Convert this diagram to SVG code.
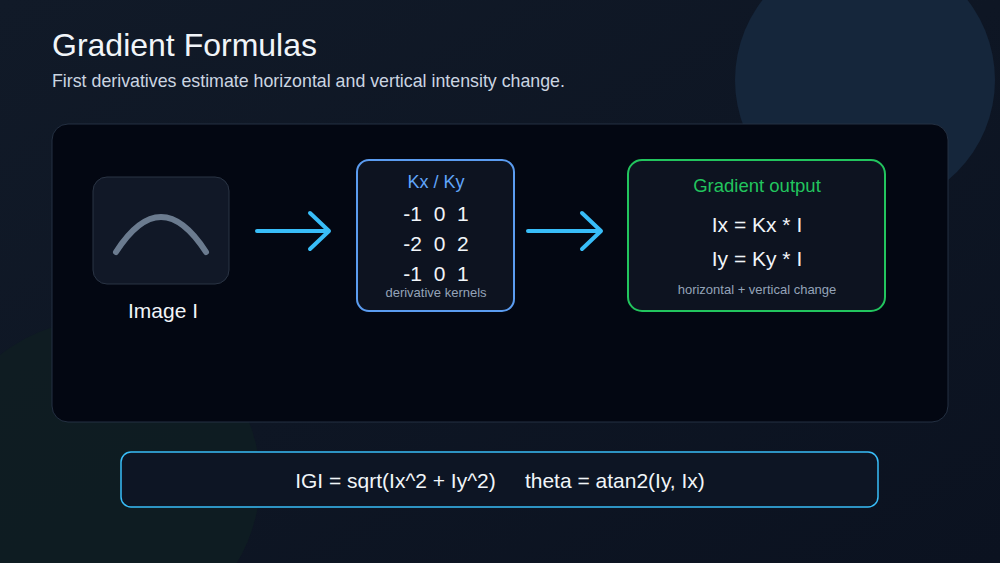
<svg xmlns="http://www.w3.org/2000/svg" width="1000" height="563" viewBox="0 0 1000 563">
<defs>
<linearGradient id="bg" x1="0" y1="0" x2="1" y2="1"><stop offset="0" stop-color="#111a28"/><stop offset="1" stop-color="#0b1220"/></linearGradient>
<style>
text{font-family:"Liberation Sans",Arial,sans-serif}
.w{fill:#f1f5f9}.m{fill:#f1f5f9;font-size:21px;text-anchor:middle}
.s{fill:#94a3b8;font-size:13px;text-anchor:middle}
.arr{stroke:#38bdf8;stroke-width:4;fill:none;stroke-linecap:round;stroke-linejoin:round}
</style>
</defs>
<rect width="1000" height="563" fill="url(#bg)"/>
<circle cx="865" cy="80" r="130" fill="#15263b"/>
<circle cx="100" cy="480" r="160" fill="#0f1e22" opacity="0.8"/>
<text x="52" y="56" class="w" font-size="32">Gradient Formulas</text>
<text x="52" y="87" fill="#cbd5e1" font-size="17.8">First derivatives estimate horizontal and vertical intensity change.</text>
<rect x="52" y="124" width="896" height="298" rx="16" fill="#030712" stroke="#243042"/>
<g id="image">
<rect x="93" y="177" width="136" height="107" rx="14" fill="#111827" stroke="#2a3444"/>
<path d="M116 252 Q161 182 206 252" stroke="#6b7b8f" stroke-width="6" fill="none" stroke-linecap="round"/>
<text x="163" y="318" class="m" font-size="20">Image I</text>
</g>
<g id="kernels">
<rect x="357" y="160" width="157" height="151" rx="12" fill="#0d1320" stroke="#5b9cf0" stroke-width="2"/>
<text x="436" y="188" fill="#60a5fa" font-size="18" text-anchor="middle">Kx / Ky</text>
<text x="436" y="221" class="m" font-size="20" xml:space="preserve">-1  0  1</text>
<text x="436" y="251" class="m" font-size="20" xml:space="preserve">-2  0  2</text>
<text x="436" y="281" class="m" font-size="20" xml:space="preserve">-1  0  1</text>
<text x="436" y="297" class="s" font-size="12">derivative kernels</text>
</g>
<g id="output">
<rect x="628" y="160" width="257" height="151" rx="14" fill="#0d1320" stroke="#22c55e" stroke-width="2"/>
<text x="757" y="192" fill="#22c55e" font-size="18.5" text-anchor="middle">Gradient output</text>
<text x="757" y="232" class="m">Ix = Kx * I</text>
<text x="757" y="266" class="m">Iy = Ky * I</text>
<text x="757" y="294" class="s">horizontal + vertical change</text>
</g>
<g id="connectors">
<path class="arr" d="M257 231H328M310 213L329 231L310 249"/>
<path class="arr" d="M528 231H600M582 213L601 231L582 249"/>
</g>
<g id="formula">
<rect x="121" y="452" width="757" height="55" rx="10" fill="#0d1524" stroke="#38bdf8" stroke-width="1.5"/>
<text x="500" y="488" class="m" font-size="21.5" xml:space="preserve">IGI = sqrt(Ix^2 + Iy^2)     theta = atan2(Iy, Ix)</text>
</g>
</svg>
